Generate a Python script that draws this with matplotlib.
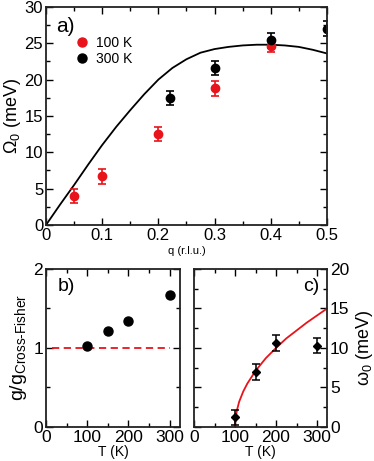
import matplotlib
matplotlib.use("Agg")
import matplotlib.pyplot as plt
from matplotlib.lines import Line2D
from matplotlib.ticker import MultipleLocator

plt.rcParams['font.family'] = ['Liberation Sans', 'DejaVu Sans']
plt.rcParams['mathtext.fontset'] = 'custom'
plt.rcParams['mathtext.rm'] = 'Liberation Sans'
plt.rcParams['mathtext.it'] = 'Liberation Sans'

RED = '#e8141b'

# Panel a data
q_100 = [0.05, 0.10, 0.20, 0.30, 0.40]
om_100 = [4.0, 6.7, 12.5, 18.8, 24.6]
err_100 = [1.0, 1.0, 1.0, 1.0, 0.8]
q_300 = [0.22, 0.30, 0.40, 0.50]
om_300 = [17.5, 21.6, 25.4, 27.0]
err_300 = [1.0, 1.0, 1.0, 1.0]
q_curve = [0.0, 0.025, 0.05, 0.075, 0.10, 0.125, 0.15, 0.175, 0.20, 0.225, 0.25,
           0.275, 0.30, 0.325, 0.35, 0.375, 0.40, 0.425, 0.45, 0.475, 0.50]
om_curve = [0.0, 2.8, 5.5, 8.3, 11.0, 13.5, 15.8, 18.0, 20.0, 21.6, 22.8,
            23.7, 24.2, 24.5, 24.7, 24.8, 24.8, 24.7, 24.5, 24.1, 23.6]

# Panel b data
T_b = [100, 150, 200, 300]
g_b = [1.03, 1.22, 1.34, 1.67]
ref_T = [15, 300]
ref_g = [1.0, 1.0]

# Panel c data
T_c = [100, 150, 200, 300]
w_c = [1.2, 7.0, 10.6, 10.3]
werr_c = [1.0, 1.0, 1.0, 1.0]
T_fit = [100, 100.5, 102, 105, 110, 120, 130, 140, 150, 175, 200, 225, 250, 275, 300, 325]
w_fit = [0.0, 0.7, 1.4, 2.2, 3.2, 4.5, 5.5, 6.3, 7.1, 8.7, 10.0, 11.2, 12.2, 13.2, 14.1, 15.0]

fig = plt.figure(figsize=(3.74, 4.61), dpi=100)

def style(ax, size):
    ax.tick_params(which='both', direction='in', top=True, right=True, labelsize=size, pad=2)
    ax.tick_params(which='major', length=5, width=1)
    ax.tick_params(which='minor', length=3, width=1)
    for s in ax.spines.values():
        s.set_linewidth(1.3)
        s.set_color('#222222')

axa = fig.add_axes([0.123, 0.512, 0.751, 0.473])
axa.plot(q_curve, om_curve, color='black', lw=1.3)
axa.errorbar(q_100, om_100, yerr=err_100, fmt='o', color=RED, ms=6, capsize=3,
             elinewidth=1.2, capthick=1.2)
axa.errorbar(q_300, om_300, yerr=err_300, fmt='o', color='black', ms=6, capsize=3,
             elinewidth=1.2, capthick=1.2)
axa.set_xlim(0, 0.5)
axa.set_ylim(0, 30)
axa.set_xticks([0, 0.1, 0.2, 0.3, 0.4, 0.5])
axa.set_xticklabels(['0', '0.1', '0.2', '0.3', '0.4', '0.5'])
axa.xaxis.set_minor_locator(MultipleLocator(0.05))
axa.yaxis.set_major_locator(MultipleLocator(5))
axa.yaxis.set_minor_locator(MultipleLocator(2.5))
style(axa, 12)
axa.set_xlabel('q (r.l.u.)', fontsize=8, labelpad=2)
axa.set_ylabel(r'$\Omega_0$ (meV)', fontsize=13, labelpad=1)
axa.text(0.035, 0.955, 'a)', transform=axa.transAxes, fontsize=15, va='top', ha='left')
handles = [Line2D([], [], marker='o', ls='none', color=RED, ms=6.5),
           Line2D([], [], marker='o', ls='none', color='black', ms=6.5)]
axa.legend(handles, ['100 K', '300 K'], loc='upper left', bbox_to_anchor=(0.07, 0.91),
           frameon=False, fontsize=10, handletextpad=0.5, labelspacing=0.15,
           handlelength=1.0, borderpad=0.2)

axb = fig.add_axes([0.123, 0.0738, 0.358, 0.343])
axb.plot(ref_T, ref_g, color=RED, ls=(0, (4, 2.5)), lw=1.3)
axb.plot(T_b, g_b, 'o', color='black', ms=6.5)
axb.set_xlim(0, 325)
axb.set_ylim(0, 2)
axb.xaxis.set_major_locator(MultipleLocator(100))
axb.xaxis.set_minor_locator(MultipleLocator(50))
axb.yaxis.set_major_locator(MultipleLocator(1))
axb.yaxis.set_minor_locator(MultipleLocator(0.5))
style(axb, 12.5)
axb.set_xlabel('T (K)', fontsize=10, labelpad=0)
axb.set_ylabel(r'g/g$_{\mathrm{Cross\text{-}Fisher}}$', fontsize=14, labelpad=3)
axb.text(0.09, 0.94, 'b)', transform=axb.transAxes, fontsize=14, va='top', ha='left')

axc = fig.add_axes([0.519, 0.0738, 0.356, 0.343])
axc.plot(T_fit, w_fit, color=RED, lw=1.3)
axc.errorbar(T_c, w_c, yerr=werr_c, fmt='D', color='black', ms=4.5, capsize=3,
             elinewidth=1.1, capthick=1.1)
axc.set_xlim(0, 325)
axc.set_ylim(0, 20)
axc.xaxis.set_major_locator(MultipleLocator(100))
axc.xaxis.set_minor_locator(MultipleLocator(50))
axc.yaxis.set_major_locator(MultipleLocator(5))
axc.yaxis.set_minor_locator(MultipleLocator(2.5))
style(axc, 12.5)
axc.tick_params(labelleft=False, labelright=True)
axc.yaxis.set_label_position('right')
axc.set_xlabel('T (K)', fontsize=10, labelpad=0)
axc.set_ylabel(r'$\omega_0$ (meV)', fontsize=13, labelpad=3)
axc.text(0.94, 0.94, 'c)', transform=axc.transAxes, fontsize=14, va='top', ha='right')

fig.savefig('out.png', dpi=100)
